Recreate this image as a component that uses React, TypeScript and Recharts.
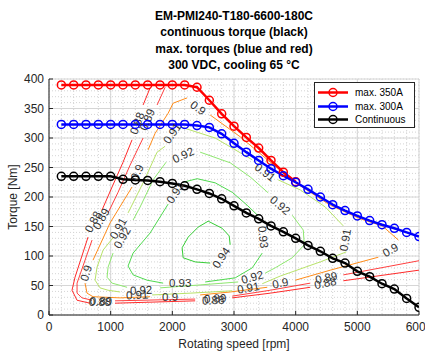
import React from "react";
import {
  ComposedChart,
  Line,
  Scatter,
  XAxis,
  YAxis,
  CartesianGrid,
  Legend,
} from "recharts";

const titleLines = [
  "EM-PMI240-T180-6600-180C",
  "continuous torque (black)",
  "max. torques (blue and red)",
  "300 VDC, cooling 65 °C",
];

// rotating speed of the measured points [rpm]
const speeds = [
  200, 400, 600, 800, 1000, 1200, 1400, 1600, 1800, 2000, 2200, 2400, 2600, 2800, 3000,
  3200, 3400, 3600, 3800, 4000, 4200, 4400, 4600, 4800, 5000, 5200, 5400, 5600, 5800, 6000,
];
// torque [Nm]
const max350 = [
  390, 390, 390, 390, 390, 390, 390, 390, 390, 390, 390, 386, 364, 341, 320, 301, 283, 262,
  242, 226,
];
const max300 = [
  323, 323, 323, 323, 323, 323, 323, 323, 323, 323, 323, 321, 318, 307, 291, 276, 262, 248,
  236, 225, 213, 200, 187, 177, 168, 160, 153, 147, 140, 133,
];
const continuous = [
  235, 235, 235, 235, 235, 230, 229, 228, 226, 223, 219, 213, 206, 197, 185, 173, 163, 151,
  141, 130, 118, 108, 96, 88, 74, 65, 53, 44, 28, 13,
];

const xTicks = [0, 1000, 2000, 3000, 4000, 5000, 6000];
const yTicks = [0, 50, 100, 150, 200, 250, 300, 350, 400];
const xDomain: [number, number] = [0, 6000];
const yDomain: [number, number] = [0, 400];

// efficiency contours, [rpm, Nm], null = gap for a label
type Pt = [number, number] | null;
const eff88: Pt[] = [
  [1640, 385], [1526, 356], null,
  [1347, 297], [1201, 259], [1023, 217], [860, 178], null,
  [633, 132], [422, 64], [373, 42], [455, 25], [666, 20], null,
  [1071, 20], [2370, 24], null,
  [2971, 29], [3588, 37], [4237, 47], null,
  [4773, 58], [6000, 76],
];
const eff89: Pt[] = [
  [1883, 386], [1753, 356], null,
  [1526, 300], [1315, 254], [1120, 208], [958, 173], null,
  [698, 127], [455, 54], [455, 37], [536, 29], [698, 25], null,
  [1071, 24], [2370, 27], null,
  [2971, 32], [3588, 42], [4237, 54], null,
  [4773, 68], [6000, 92],
];
const eff90: Pt[] = [
  [5341, 98], [4562, 76], [3994, 59], null,
  [3539, 47], [2938, 39], [2451, 34], null,
  [1640, 31], [1153, 29], [714, 31], [617, 37], [584, 54], null,
  [714, 93], [990, 156], [1347, 217], null,
  [1607, 280], [1721, 308], [1932, 342], [2013, 359], [2240, 368], null,
  [2614, 339], [3101, 302], [3636, 255], [4075, 219], [4562, 186], [5049, 163], [5406, 151],
  [5666, 127],
];
const eff91: Pt[] = [
  [2127, 319], [2695, 300], [3101, 275], [3296, 263], null,
  [3717, 229], [4075, 212], [4481, 183], [4773, 151], null,
  [4822, 107], [4399, 90], [3750, 66], [3458, 53], null,
  [2971, 41], [2289, 37], [1672, 34], null,
  [1153, 39], [958, 42], [828, 46], [747, 59], [779, 81], [877, 110], [1039, 131], null,
  [1282, 173], [1526, 224], [1753, 276], [1883, 286],
];
const eff92: Pt[] = [
  [2451, 276], [2938, 258], [3263, 234], [3555, 207], null,
  [3945, 169], [4123, 144], [4140, 119], [3945, 97], [3669, 80], [3506, 71], null,
  [3068, 56], [2451, 51], [1802, 46], null,
  [1266, 47], [1023, 54], [942, 64], [958, 81], [1039, 105], null,
  [1364, 161], [1477, 183], [1688, 229], [1899, 259],
];
const eff93: Pt[] = [
  [2175, 225], [2403, 231], [2695, 224], [2971, 208], [3214, 186], [3393, 168], null,
  [3458, 105], [3296, 80], [3020, 63], [2533, 56], null,
  [1851, 54], [1591, 59], [1364, 68], [1282, 83], [1364, 105], [1640, 139], [1932, 188],
];
const eff94: Pt[] = [
  [2938, 119], [2922, 134], [2808, 147], [2581, 159], [2419, 149], [2257, 132], [2159, 114],
  [2175, 97], [2370, 90], [2614, 88],
];

// contour labels: rpm, Nm, text, rotation
const contourLabels: [number, number, string, number][] = [
  [1429, 325, "0.88", -70], [714, 158, "0.88", -62], [828, 22, "0.88", 0],
  [2662, 25, "0.88", -3], [4481, 54, "0.88", -12],
  [1591, 331, "0.89", -67], [844, 163, "0.89", -60], [844, 24, "0.89", 0],
  [2695, 28, "0.89", -3], [4497, 63, "0.89", -12],
  [2419, 351, "0.9", 36], [1429, 242, "0.9", -66], [601, 71, "0.9", -72],
  [1964, 30, "0.9", 0], [3750, 54, "0.9", -12], [5536, 110, "0.9", -30],
  [1997, 308, "0.91", -55], [3506, 242, "0.91", 37], [4805, 127, "0.91", -80],
  [3231, 46, "0.91", -10], [1429, 34, "0.91", -3], [1120, 147, "0.91", -60],
  [2175, 271, "0.92", -25], [3750, 186, "0.92", 40], [3296, 64, "0.92", -15],
  [1494, 42, "0.92", -3], [1185, 131, "0.92", -60],
  [2046, 207, "0.93", -58], [3474, 132, "0.93", 84], [2127, 54, "0.93", 0],
  [2792, 97, "0.94", -56],
];

const contours = [
  { id: "c88", pts: eff88, color: "#ff2a2a" },
  { id: "c89", pts: eff89, color: "#ff4040" },
  { id: "c90", pts: eff90, color: "#ff8c1a" },
  { id: "c91", pts: eff91, color: "#b8e36a" },
  { id: "c92", pts: eff92, color: "#8fe870" },
  { id: "c93", pts: eff93, color: "#4fd94f" },
  { id: "c94", pts: eff94, color: "#36cc36" },
];

const series = [
  { name: "max. 350A", values: max350, color: "#ff0000" },
  { name: "max. 300A", values: max300, color: "#0000ff" },
  { name: "Continuous", values: continuous, color: "#000000" },
];

// minor grid every 200 rpm / 10 Nm
const minorX = Array.from({ length: 31 }, (_, i) => i * 200);
const minorY = Array.from({ length: 41 }, (_, i) => i * 10);

const toPath = (pts: Pt[]) => {
  let last = 0;
  return pts.map((p) => {
    if (!p) return { s: last, t: null };
    last = p[0];
    return { s: p[0], t: p[1] };
  });
};

const labelData = contourLabels.map(([s, t, v, a]) => ({ s, t, v, a }));

const renderLabel = (p: any) => (
  <text
    x={p.cx}
    y={p.cy}
    textAnchor="middle"
    dominantBaseline="central"
    transform={`rotate(${p.payload.a} ${p.cx} ${p.cy})`}
    fontSize={11.5}
    fill="#333"
  >
    {p.payload.v}
  </text>
);

// map a value into the plot area, using the axis scale when it is exposed
const scaleOf = (axis: any, v: number, lin: () => number) => {
  const sc = axis && axis.scale;
  if (typeof sc === "function") return sc(v);
  if (sc && typeof sc.map === "function") return sc.map(v);
  return lin();
};
const minorVertical = ({ xAxis, offset }: any) =>
  minorX.map((v) =>
    scaleOf(xAxis, v, () => offset.left + ((v - xDomain[0]) / (xDomain[1] - xDomain[0])) * offset.width)
  );
const minorHorizontal = ({ yAxis, offset }: any) =>
  minorY.map((v) =>
    scaleOf(yAxis, v, () => offset.top + offset.height - ((v - yDomain[0]) / (yDomain[1] - yDomain[0])) * offset.height)
  );

const LegendBox = () => (
  <div
    style={{
      border: "1px solid #262626",
      background: "#fff",
      width: 101,
      height: 46,
      boxSizing: "border-box",
      padding: "3px 3px 0 3px",
      fontSize: 10,
      color: "#000",
    }}
  >
    {series.map((s) => (
      <div key={s.name} style={{ display: "flex", alignItems: "center", height: 13.5 }}>
        <svg width={32} height={13} style={{ display: "block" }}>
          <line x1={0} y1={6.5} x2={30} y2={6.5} stroke={s.color} strokeWidth={2.5} />
          <circle cx={15} cy={6.5} r={4} stroke={s.color} strokeWidth={1.5} fill="none" />
        </svg>
        <span style={{ marginLeft: 5, whiteSpace: "nowrap" }}>{s.name}</span>
      </div>
    ))}
  </div>
);

export default function App() {
  return (
    <div
      style={{
        position: "absolute",
        left: 0,
        top: 0,
        width: 425,
        height: 351,
        overflow: "hidden",
        background: "#fff",
        fontFamily: '"Liberation Sans", Arial, sans-serif',
      }}
    >
      <div
        style={{
          position: "absolute",
          left: 49,
          top: 8,
          width: 370,
          textAlign: "center",
          fontWeight: "bold",
          fontSize: 12,
          lineHeight: "16.3px",
          color: "#000",
        }}
      >
        {titleLines.map((l) => (
          <div key={l}>{l}</div>
        ))}
      </div>
      <ComposedChart
        width={425}
        height={351}
        margin={{ top: 79, right: 6, bottom: 0, left: 0 }}
      >
        <CartesianGrid
          stroke="#d4d4d4"
          strokeDasharray="1 2"
          verticalCoordinatesGenerator={minorVertical}
          horizontalCoordinatesGenerator={minorHorizontal}
        />
        <CartesianGrid stroke="#d6d6d6" />

        <XAxis
          dataKey="s"
          type="number"
          domain={xDomain}
          ticks={xTicks}
          interval={0}
          allowDataOverflow
          height={36}
          tickSize={-4}
          tickMargin={11}
          stroke="#262626"
          tick={{ fontSize: 12, fill: "#262626" }}
          label={{ value: "Rotating speed [rpm]", position: "insideBottom", offset: 3, fontSize: 12, fill: "#262626" }}
        />
        <YAxis
          type="number"
          domain={yDomain}
          ticks={yTicks}
          interval={0}
          allowDataOverflow
          width={49}
          tickSize={-4}
          tickMargin={9}
          stroke="#262626"
          tick={{ fontSize: 12, fill: "#262626" }}
          label={{ value: "Torque [Nm]", angle: -90, position: "insideLeft", offset: 13, textAnchor: "middle", fontSize: 12, fill: "#262626" }}
        />
        <XAxis
          xAxisId="top"
          orientation="top"
          type="number"
          domain={xDomain}
          ticks={xTicks}
          interval={0}
          height={0}
          tick={false}
          tickSize={-4}
          stroke="#262626"
        />
        <YAxis
          yAxisId="right"
          orientation="right"
          type="number"
          domain={yDomain}
          ticks={yTicks}
          interval={0}
          width={0}
          tick={false}
          tickSize={-4}
          stroke="#262626"
        />

        {contours.map((c) => (
          <Line
            key={c.id}
            data={toPath(c.pts)}
            dataKey="t"
            type="linear"
            stroke={c.color}
            strokeWidth={1}
            dot={false}
            activeDot={false}
            legendType="none"
            isAnimationActive={false}
          />
        ))}

        <Scatter data={labelData} dataKey="t" shape={renderLabel} legendType="none" isAnimationActive={false} />

        {series.map((s) => (
          <Line
            key={s.name}
            name={s.name}
            data={s.values.map((t, i) => ({ s: speeds[i], t }))}
            dataKey="t"
            type="linear"
            stroke={s.color}
            strokeWidth={2.5}
            dot={{ r: 4, stroke: s.color, strokeWidth: 1.5, fill: "none" }}
            activeDot={false}
            isAnimationActive={false}
          />
        ))}

        <Legend
          layout="vertical"
          align="center"
          verticalAlign="middle"
          wrapperStyle={{ left: 314, top: 82, width: 101 }}
          content={() => <LegendBox />}
        />
      </ComposedChart>
    </div>
  );
}
